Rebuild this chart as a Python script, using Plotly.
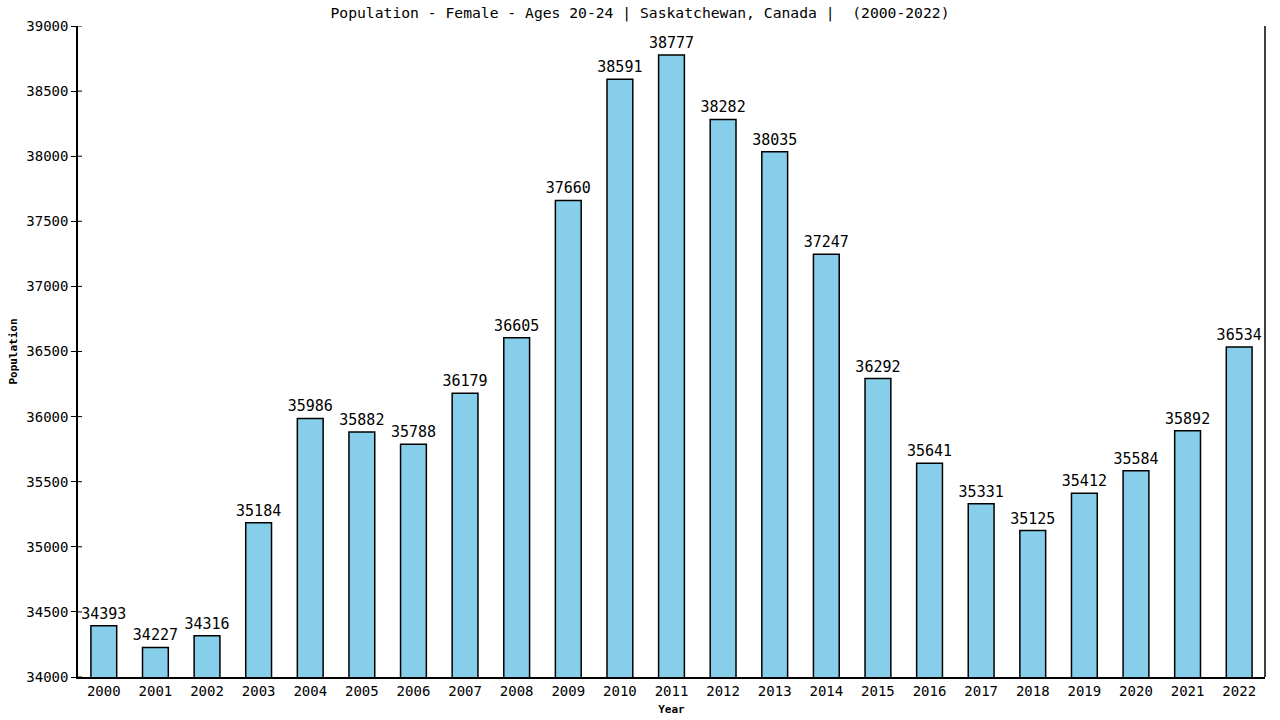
import plotly.graph_objects as go

years = [str(y) for y in range(2000, 2023)]
population = [34393, 34227, 34316, 35184, 35986, 35882, 35788, 36179, 36605, 37660,
              38591, 38777, 38282, 38035, 37247, 36292, 35641, 35331, 35125, 35412,
              35584, 35892, 36534]
y_ticks = [34000, 34500, 35000, 35500, 36000, 36500, 37000, 37500, 38000, 38500, 39000]

FONT = "DejaVu Sans Mono"

fig = go.Figure()
fig.add_trace(go.Bar(
    x=years, y=population, width=0.5,
    marker=dict(color="#87CEEB", line=dict(color="black", width=1.5)),
    text=[str(v) for v in population], textposition="outside", cliponaxis=False,
    constraintext="none", hoverinfo="x+y",
    textfont=dict(family=FONT, size=15, color="black"),
))

fig.update_layout(
    width=1280, height=720,
    margin=dict(l=78, r=15, t=26, b=43, autoexpand=False),
    plot_bgcolor="white", paper_bgcolor="white",
    showlegend=False,
    title=dict(text="Population - Female - Ages 20-24 | Saskatchewan, Canada |  (2000-2022)",
               x=0.5, xanchor="center", xref="container", y=0.982, yanchor="middle",
               automargin=False,
               font=dict(family=FONT, size=14.7, color="black")),
    font=dict(family=FONT, color="black"),
)
fig.update_xaxes(
    type="category", range=[-0.5, 22.5], automargin=False,
    showline=True, linecolor="black", linewidth=1.5, mirror=False,
    ticks="", tickfont=dict(family=FONT, size=14),
    title=dict(text="<b>Year</b>", font=dict(family=FONT, size=11), standoff=8),
)
fig.update_yaxes(
    range=[34000, 39000], tickvals=y_ticks, ticktext=[str(v) for v in y_ticks],
    automargin=False, mirror=False,
    showline=True, linecolor="black", linewidth=1.5,
    ticks="outside", ticklen=5, tickcolor="black", tickwidth=1,
    showgrid=False, zeroline=False,
    tickfont=dict(family=FONT, size=14),
    title=dict(text="<b>Population</b>", font=dict(family=FONT, size=11), standoff=6),
)
# inner half of the crossing y ticks
for t in y_ticks:
    fig.add_shape(type="line", xref="paper", xsizemode="pixel", xanchor=0, x0=0, x1=4,
                  yref="y", y0=t, y1=t, line=dict(color="black", width=1))
# right border line
fig.add_shape(type="line", xref="paper", yref="paper", x0=1, x1=1, y0=0, y1=1,
              line=dict(color="black", width=1.5))

fig.write_html("out.html", config={"responsive": False, "displayModeBar": False},
               post_script="document.body.style.margin='0';document.body.style.overflow='hidden';")
